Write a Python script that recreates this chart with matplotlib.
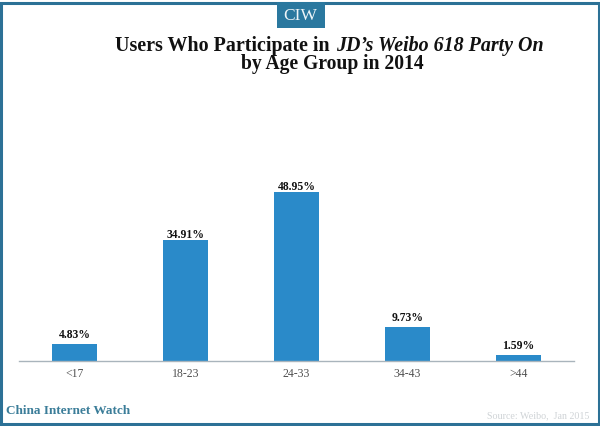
import matplotlib
matplotlib.use("Agg")
import matplotlib.pyplot as plt
from matplotlib.patches import Rectangle

categories = ["<17", "18-23", "24-33", "34-43", ">44"]
values = [4.83, 34.91, 48.95, 9.73, 1.59]
value_labels = ["4.83%", "34.91%", "48.95%", "9.73%", "1.59%"]

W, H = 600, 426
fig = plt.figure(figsize=(W / 100, H / 100), dpi=100, facecolor="white")
SERIF = "Liberation Serif"

def fx(x):
    return x / W

def fy(y):
    return 1 - y / H

# plot area
left, right, bottom, top = 19, 574, 360.5, 60
ax = fig.add_axes([fx(left), fy(bottom), fx(right - left), (bottom - top) / H])
ax.bar(range(len(values)), values, width=0.4, color="#2a8ac9", zorder=2)
ax.set_xlim(-0.5, 4.5)
ax.set_ylim(0, (bottom - top) / 3.44)
for s in ["top", "left", "right"]:
    ax.spines[s].set_visible(False)
ax.spines["bottom"].set_color("#a9b4bc")
ax.spines["bottom"].set_linewidth(1.0)
ax.set_yticks([])
ax.set_xticks(range(len(categories)))
ax.set_xticklabels(categories, fontfamily=SERIF, fontsize=8.5, color="#505050")
ax.tick_params(axis="x", length=0, pad=5.7)
for i, (v, lab) in enumerate(zip(values, value_labels)):
    # labels on the two tall bars sit closer to the bar than the others
    pad = -0.5 if v > 30 else 1.9
    ax.annotate(lab, (i, v), xytext=(0, pad), textcoords="offset points", ha="center",
                va="bottom", fontfamily=SERIF, fontsize=8.4, fontweight="bold", color="#111111")

# outer frame
fig.add_artist(Rectangle((0.002, 0.004), 0.996, 0.99, transform=fig.transFigure, fill=False,
                         edgecolor="#2c7196", linewidth=2.2))
# badge
fig.add_artist(Rectangle((fx(277), fy(28)), 48 / W, 26 / H, transform=fig.transFigure,
                         facecolor="#2a789f", edgecolor="none"))
fig.text(fx(300), fy(16), "CIW", ha="center", va="center", fontfamily=SERIF, fontsize=12.5, color="#eef5f8")

# title (mixed upright and italic on one line)
renderer = fig.canvas.get_renderer()
t1 = fig.text(fx(115), fy(45.5), "Users Who Participate in ", ha="left", va="center",
              fontfamily=SERIF, fontsize=14.4, fontweight="bold", color="#111111")
bb = t1.get_window_extent(renderer)
fig.text((bb.x1 + 1) / W, fy(45.5), "JD\u2019s Weibo 618 Party On", ha="left", va="center",
         fontfamily=SERIF, fontsize=14.4, fontweight="bold", fontstyle="italic", color="#111111")
fig.text(fx(332), fy(64.5), "by Age Group in 2014", ha="center", va="center",
         fontfamily=SERIF, fontsize=14.1, fontweight="bold", color="#111111")

# footer
fig.text(fx(6), fy(410.5), "China Internet Watch", ha="left", va="center", fontfamily=SERIF,
         fontsize=9.5, fontweight="bold", color="#3b7d99")
fig.text(fx(589), fy(416), "Source: Weibo,  Jan 2015", ha="right", va="center", fontfamily=SERIF,
         fontsize=7.2, color="#cfd3d6")

fig.savefig("out.png", dpi=100)
